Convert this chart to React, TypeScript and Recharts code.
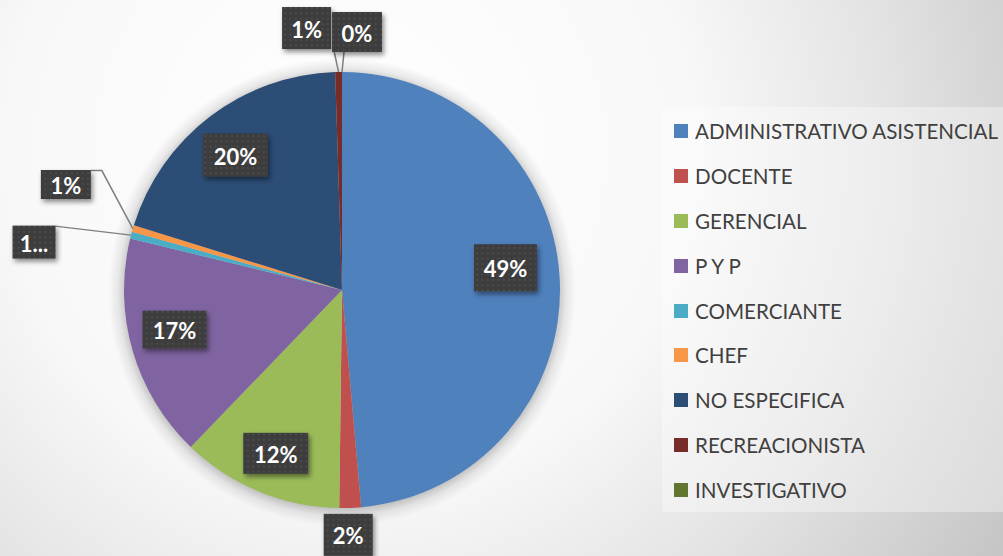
import React from "react";
import { PieChart, Pie, Cell, Legend } from "recharts";

const categories = [
  "ADMINISTRATIVO ASISTENCIAL",
  "DOCENTE",
  "GERENCIAL",
  "P Y P",
  "COMERCIANTE",
  "CHEF",
  "NO ESPECIFICA",
  "RECREACIONISTA",
  "INVESTIGATIVO",
];
const shares = [48.6, 1.6, 12.0, 16.6, 0.5, 0.5, 19.7, 0.5, 0];
const colors = ["#4F81BD", "#C0504D", "#9BBB59", "#8064A2", "#4BACC6", "#F79646", "#2C4D75", "#772C2A", "#5F7530"];

const data = categories.map((name, i) => ({ name, value: shares[i] }));

// where each data label goes: f = fraction of the radius on the mid-angle, then a nudge.
// lead = leader line points (relative to the slice edge point), short = label cut off like in Excel
const labelLayout = [
  { f: 0.755, dx: -1, dy: -15, w: 63, h: 47 },
  { f: 1, dx: -2, dy: 27, w: 49, h: 42 },
  { f: 0.8, dx: 0, dy: 2, w: 65, h: 41 },
  { f: 0.8, dx: 0, dy: -9, w: 64, h: 38 },
  { f: 1, dx: -97, dy: 7, w: 43, h: 33, lead: [[-76, -9]], short: true },
  { f: 1, dx: -67, dy: -44, w: 50, h: 29, lead: [[-31, -58], [-42, -58]] },
  { f: 0.8, dx: -1, dy: 4, w: 65, h: 43 },
  { f: 1, dx: -32, dy: -44, w: 49, h: 42, lead: [[-5, -23]] },
  { f: 1, dx: 15, dy: -40, w: 50, h: 40, lead: [[2, -20]] },
];

const RAD = Math.PI / 180;
const PIE_CX = 342;
const PIE_CY = 290;
const PIE_R = 218;

function renderLabel(props: any) {
  const { cx, cy, midAngle, outerRadius, percent, index } = props;
  const L: any = labelLayout[index];
  if (!L) return null;
  const ax = cx + outerRadius * L.f * Math.cos(-midAngle * RAD);
  const ay = cy + outerRadius * L.f * Math.sin(-midAngle * RAD);
  const x = ax + L.dx;
  const y = ay + L.dy;
  const pct = Math.round((percent || 0) * 100 + 1e-6);
  const text = L.short ? `${String(pct)[0]}...` : `${pct}%`;
  const pts = L.lead ? [[ax, ay], ...L.lead.map((p: number[]) => [ax + p[0], ay + p[1]])] : null;
  return (
    <g key={`lbl-${index}`}>
      {pts && (
        <polyline
          points={pts.map((p: number[]) => p.join(",")).join(" ")}
          fill="none"
          stroke="#7f7f7f"
          strokeWidth={1.5}
        />
      )}
      <rect x={x - L.w / 2} y={y - L.h / 2} width={L.w} height={L.h} fill="url(#lblDots)" filter="url(#lblShadow)" />
      <text
        x={x}
        y={y + 1}
        textAnchor="middle"
        dominantBaseline="central"
        fill="#ffffff"
        fontFamily="Lato, 'Open Sans', sans-serif"
        fontWeight={700}
        fontSize={22}
      >
        {text}
      </text>
    </g>
  );
}

function renderLegend() {
  return (
    <div
      style={{
        width: 341,
        height: 405,
        boxSizing: "border-box",
        paddingTop: 2,
        background: "rgba(255,255,255,0.35)",
      }}
    >
      {categories.map((name, i) => (
        <div key={name} style={{ display: "flex", alignItems: "center", height: 44.8 }}>
          <span
            style={{
              display: "inline-block",
              width: 14,
              height: 14,
              marginLeft: 12,
              marginRight: 7,
              background: colors[i],
            }}
          />
          <span style={{ fontFamily: "Lato, 'Open Sans', sans-serif", fontSize: 20.6, color: "#404040", whiteSpace: "nowrap" }}>
            {name}
          </span>
        </div>
      ))}
    </div>
  );
}

export default function App() {
  // soft halo under the pie (plain background paint, hidden by the slices)
  const halo = `radial-gradient(circle at ${PIE_CX}px ${PIE_CY + 2}px, rgba(0,0,0,0.22) 0px, rgba(0,0,0,0.22) ${PIE_R - 2}px, rgba(0,0,0,0.08) ${PIE_R + 6}px, rgba(0,0,0,0) ${PIE_R + 16}px)`;
  return (
    <div
      style={{
        position: "absolute",
        left: 0,
        top: 0,
        width: 1003,
        height: 556,
        overflow: "hidden",
        background: `${halo}, radial-gradient(circle 760px at 350px 150px, #ffffff 0%, #f8f8f8 45%, #e4e4e4 70%, #d0d0d0 90%, #c6c6c6 100%)`,
      }}
    >
      <svg width={0} height={0} style={{ position: "absolute" }}>
        <defs>
          <pattern id="lblDots" width={5.33} height={5.33} patternUnits="userSpaceOnUse">
            <rect width={5.33} height={5.33} fill="#3c3c3c" />
            <rect x={2} y={2} width={1.4} height={1.4} fill="#585858" />
          </pattern>
          <filter id="lblShadow" x="-20%" y="-20%" width="150%" height="160%">
            <feDropShadow dx={2} dy={3} stdDeviation={2.5} floodColor="#000" floodOpacity={0.45} />
          </filter>
        </defs>
      </svg>
      <PieChart width={1003} height={556} margin={{ top: 0, right: 0, bottom: 0, left: 0 }}>
        <Pie
          data={data}
          dataKey="value"
          nameKey="name"
          cx={PIE_CX}
          cy={PIE_CY}
          outerRadius={PIE_R}
          startAngle={90}
          endAngle={-270}
          stroke="none"
          labelLine={false}
          label={renderLabel}
          isAnimationActive={false}
        >
          {data.map((d, i) => (
            <Cell key={d.name} fill={colors[i]} />
          ))}
        </Pie>
        <Legend
          layout="vertical"
          align="right"
          verticalAlign="middle"
          content={renderLegend}
          wrapperStyle={{ left: 662, top: 107, right: "auto", bottom: "auto", width: 341 }}
        />
      </PieChart>
    </div>
  );
}
